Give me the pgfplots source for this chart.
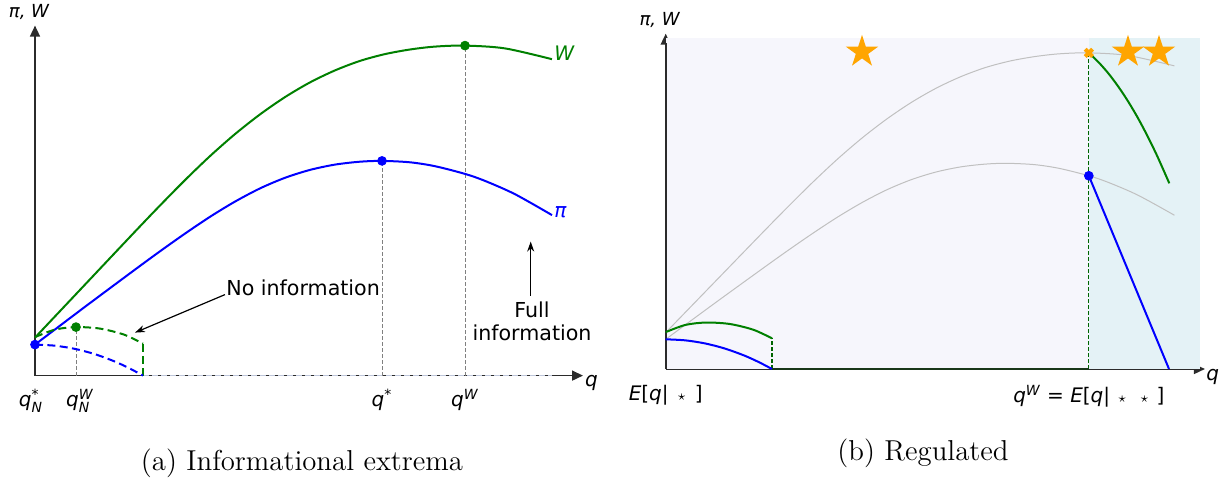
\documentclass[border=0pt]{standalone}
\usepackage{fontspec}
\usepackage{amsmath}
\usepackage{pgfplots}
\usepackage{pgfplotstable}
\pgfplotsset{compat=1.18}
\usetikzlibrary{arrows.meta}
\newfontfamily\dv[ItalicFont={DejaVu Sans Oblique}]{DejaVu Sans}
\newcommand{\mi}[1]{{\dv\itshape #1}}
\definecolor{mgreen}{HTML}{008000}
\definecolor{dgreen}{HTML}{006400}
\definecolor{mblue}{HTML}{0000FF}
\definecolor{morange}{HTML}{FFA500}
\definecolor{axgray}{HTML}{2B2B2B}
\definecolor{lav}{RGB}{246,246,252}
\definecolor{lblue}{RGB}{228,242,246}
\definecolor{ghost}{RGB}{192,192,192}
\pgfdeclareplotmark{fstar}{%
 \pgfpathmoveto{\pgfpointpolar{90}{\pgfplotmarksize}}%
 \pgfpathlineto{\pgfpointpolar{126}{0.382\pgfplotmarksize}}%
 \pgfpathlineto{\pgfpointpolar{162}{\pgfplotmarksize}}%
 \pgfpathlineto{\pgfpointpolar{198}{0.382\pgfplotmarksize}}%
 \pgfpathlineto{\pgfpointpolar{234}{\pgfplotmarksize}}%
 \pgfpathlineto{\pgfpointpolar{270}{0.382\pgfplotmarksize}}%
 \pgfpathlineto{\pgfpointpolar{306}{\pgfplotmarksize}}%
 \pgfpathlineto{\pgfpointpolar{342}{0.382\pgfplotmarksize}}%
 \pgfpathlineto{\pgfpointpolar{18}{\pgfplotmarksize}}%
 \pgfpathlineto{\pgfpointpolar{54}{0.382\pgfplotmarksize}}%
 \pgfpathclose\pgfusepathqfill}

% welfare W(q), full information
\pgfplotstableread{
x y
0 38
50 91
100 144
125 170.1
150 195.5
175 219.5
200 241.5
225 261.2
250 278.5
275 293.2
300 305.2
325 314.7
350 321.5
375 326.1
400 329
430 330
470 327.2
517 316.4
}\Wcurve
% profit pi(q), full information
\pgfplotstableread{
x y
0 31
50 68.8
100 106
125 124.3
150 142
175 158.8
200 174
225 187.2
250 197.8
275 205.7
300 211
325 213.9
347 214.7
375 213.3
400 209.4
430 201.7
450 194.7
480 181.4
517 160.5
}\Picurve
% welfare, no information
\pgfplotstableread{
x y
0 38.5
20 46
41 48.5
65 47
89 41
108 32
}\Wsmall
% profit, no information
\pgfplotstableread{
x y
0 31
20 29.9
40 26.7
60 21.4
80 14
95 7
108 0
}\Pismall
% regulated welfare beyond q^W
\pgfplotstableread{
x y
430 330
440 320.1
450 308.4
460 294.7
470 279.2
480 261.8
490 242.4
500 221.2
511.8 193.8
}\Wreg

\newcommand{\lab}{\dv\fontsize{10}{12}\selectfont}
\newcommand{\txt}{\dv\fontsize{10.3}{11.5}\selectfont}

\begin{document}
\begin{tikzpicture}[x=1pt,y=1pt]

% ---------------- left panel ----------------
\begin{axis}[
  at={(17.5pt,-187.8pt)}, anchor=south west,
  x=0.5pt, y=0.5pt, xmin=0, xmax=548, ymin=0, ymax=350,
  axis lines=left, enlargelimits=false, clip=false,
  xtick=\empty, ytick=\empty,
  axis line style={draw=axgray, line width=0.8pt, -{Triangle[length=5.5pt,width=5pt]}},
]
\addplot[draw={rgb,255:red,190;green,198;blue,218}, line width=0.5pt, dash pattern=on 3pt off 1.5pt] coordinates {(108,0.6) (517,0.6)};
\addplot[gray, line width=0.5pt, dash pattern=on 2pt off 1pt] coordinates {(41,0) (41,48.5)};
\addplot[gray, line width=0.5pt, dash pattern=on 2pt off 1pt] coordinates {(347,0) (347,214.7)};
\addplot[gray, line width=0.5pt, dash pattern=on 2pt off 1pt] coordinates {(430,0) (430,330)};
\addplot[mgreen, line width=1pt, smooth] table {\Wcurve};
\addplot[mblue, line width=1pt, smooth] table {\Picurve};
\addplot[mgreen, line width=1pt, smooth, dash pattern=on 4pt off 2.2pt] table {\Wsmall};
\addplot[mgreen, line width=1pt, dash pattern=on 4pt off 2.2pt] coordinates {(108,32) (108,0)};
\addplot[mblue, line width=1pt, smooth, dash pattern=on 4pt off 2.2pt] table {\Pismall};
\addplot[only marks, mark=*, mark size=2.2pt, mgreen] coordinates {(430,330) (41,48.5)};
\addplot[only marks, mark=*, mark size=2.2pt, mblue] coordinates {(347,214.7) (0,31)};
% labels
\node[anchor=west, text=mgreen, font=\dv\itshape\fontsize{10}{12}\selectfont, inner sep=0] at (axis cs:519,322) {W};
\node[anchor=west, text=mblue, font=\dv\itshape\fontsize{10}{12}\selectfont, inner sep=0] at (axis cs:519,163) {π};
\draw[-{Stealth[length=5pt,width=3.5pt]}, line width=0.6pt] (axis cs:190,81) -- (axis cs:100,43);
\node[anchor=west, font=\txt, inner sep=0] at (axis cs:191,88) {No information};
\draw[-{Stealth[length=5pt,width=3.5pt]}, line width=0.6pt] (axis cs:495.7,80) -- (axis cs:495.7,134);
\node[anchor=north, font=\txt, align=center, inner sep=0] at (axis cs:497,74) {Full\\information};
\node[anchor=north, font=\lab, inner sep=0] at (axis cs:-4,0) [yshift=-6.5pt] {$\text{\mi q}^{\text{\dv *}}_{\text{\mi N}}$};
\node[anchor=north, font=\lab, inner sep=0] at (axis cs:45,0) [yshift=-6.5pt] {$\text{\mi q}^{\text{\mi W}}_{\text{\mi N}}$};
\node[anchor=north, font=\lab, inner sep=0] at (axis cs:347,0) [yshift=-6.5pt] {$\text{\mi q}^{\text{\dv *}}$};
\node[anchor=north, font=\lab, inner sep=0] at (axis cs:430,0) [yshift=-6.5pt] {$\text{\mi q}^{\text{\mi W}}$};
\node[anchor=base west, font=\lab, inner sep=0] at (axis cs:548,0) [xshift=0.8pt, yshift=-5.6pt] {\mi q};
\end{axis}

% ---------------- right panel ----------------
\begin{axis}[
  at={(332.85pt,-184.5pt)}, anchor=south west,
  x=0.492pt, y=0.479pt, xmin=0, xmax=548, ymin=0, ymax=350,
  axis lines=left, enlargelimits=false, clip=false,
  xtick=\empty, ytick=\empty,
  axis line style={draw=axgray, line width=0.8pt, -{Triangle[length=5.5pt,width=5pt]}},
]
\addplot[fill=lav, draw=none] coordinates {(0,345.5) (430,345.5)} \closedcycle;
\addplot[fill=lblue, draw=none] coordinates {(430,345.5) (542.7,345.5)} \closedcycle;
\addplot[ghost, line width=0.5pt, smooth] table {\Wcurve};
\addplot[ghost, line width=0.5pt, smooth] table {\Picurve};
\addplot[dgreen, line width=0.6pt, dash pattern=on 2pt off 1pt] coordinates {(430,0) (430,330)};
\addplot[dgreen, line width=0.6pt, dash pattern=on 2pt off 1pt] coordinates {(108,0) (108,32)};
\addplot[draw={rgb,255:red,25;green,55;blue,25}, line width=1pt] coordinates {(108,0) (430,0)};
\addplot[draw=axgray, line width=0.8pt] coordinates {(0,0) (0,340)};
\addplot[mgreen, line width=1pt, smooth] table {\Wsmall};
\addplot[mblue, line width=1pt, smooth] table {\Pismall};
\addplot[mgreen, line width=1pt, smooth] table {\Wreg};
\addplot[mblue, line width=1pt] coordinates {(430,201.7) (511.5,0)};
\addplot[only marks, mark=*, mark size=2.2pt, mblue] coordinates {(430,201.7)};
\addplot[only marks, mark=x, mark size=2.6pt, line width=2pt, morange] coordinates {(430,330)};
\addplot[only marks, mark=fstar, mark size=8.5pt, morange] coordinates {(199.5,331) (469.8,331) (501.3,331)};
\node[anchor=north, font=\lab, inner sep=0] at (axis cs:0,0) [yshift=-8pt] {{\mi E}[{\mi q}|\hspace{0.45em}$\scriptstyle\star$\hspace{0.45em}]};
\node[anchor=north, font=\lab, inner sep=0] at (axis cs:430,0) [yshift=-8pt] {$\text{\mi q}^{\text{\mi W}}$ = {\mi E}[{\mi q}|\hspace{0.4em}$\scriptstyle\star$\hspace{0.7em}$\scriptstyle\star$\hspace{0.4em}]};
\node[anchor=base west, font=\lab, inner sep=0] at (axis cs:548,0) [xshift=0.5pt, yshift=-5.5pt] {\mi q};
\end{axis}

% axis labels and captions
\node[font=\dv\itshape\fontsize{9}{11}\selectfont, inner sep=0] at (14.5,-5.8) {π, W};
\node[font=\dv\itshape\fontsize{9}{11}\selectfont, inner sep=0] at (329.8,-10.2) {π, W};
\node[anchor=base, font=\fontsize{14.4}{17}\selectfont, inner sep=0] at (151,-235) {(a) Informational extrema};
\node[anchor=base, font=\fontsize{14.4}{17}\selectfont, inner sep=0] at (461.5,-230) {(b) Regulated};
\pgfresetboundingbox
\path[use as bounding box] (0,0) rectangle (611.5,-241);
\end{tikzpicture}
\end{document}
